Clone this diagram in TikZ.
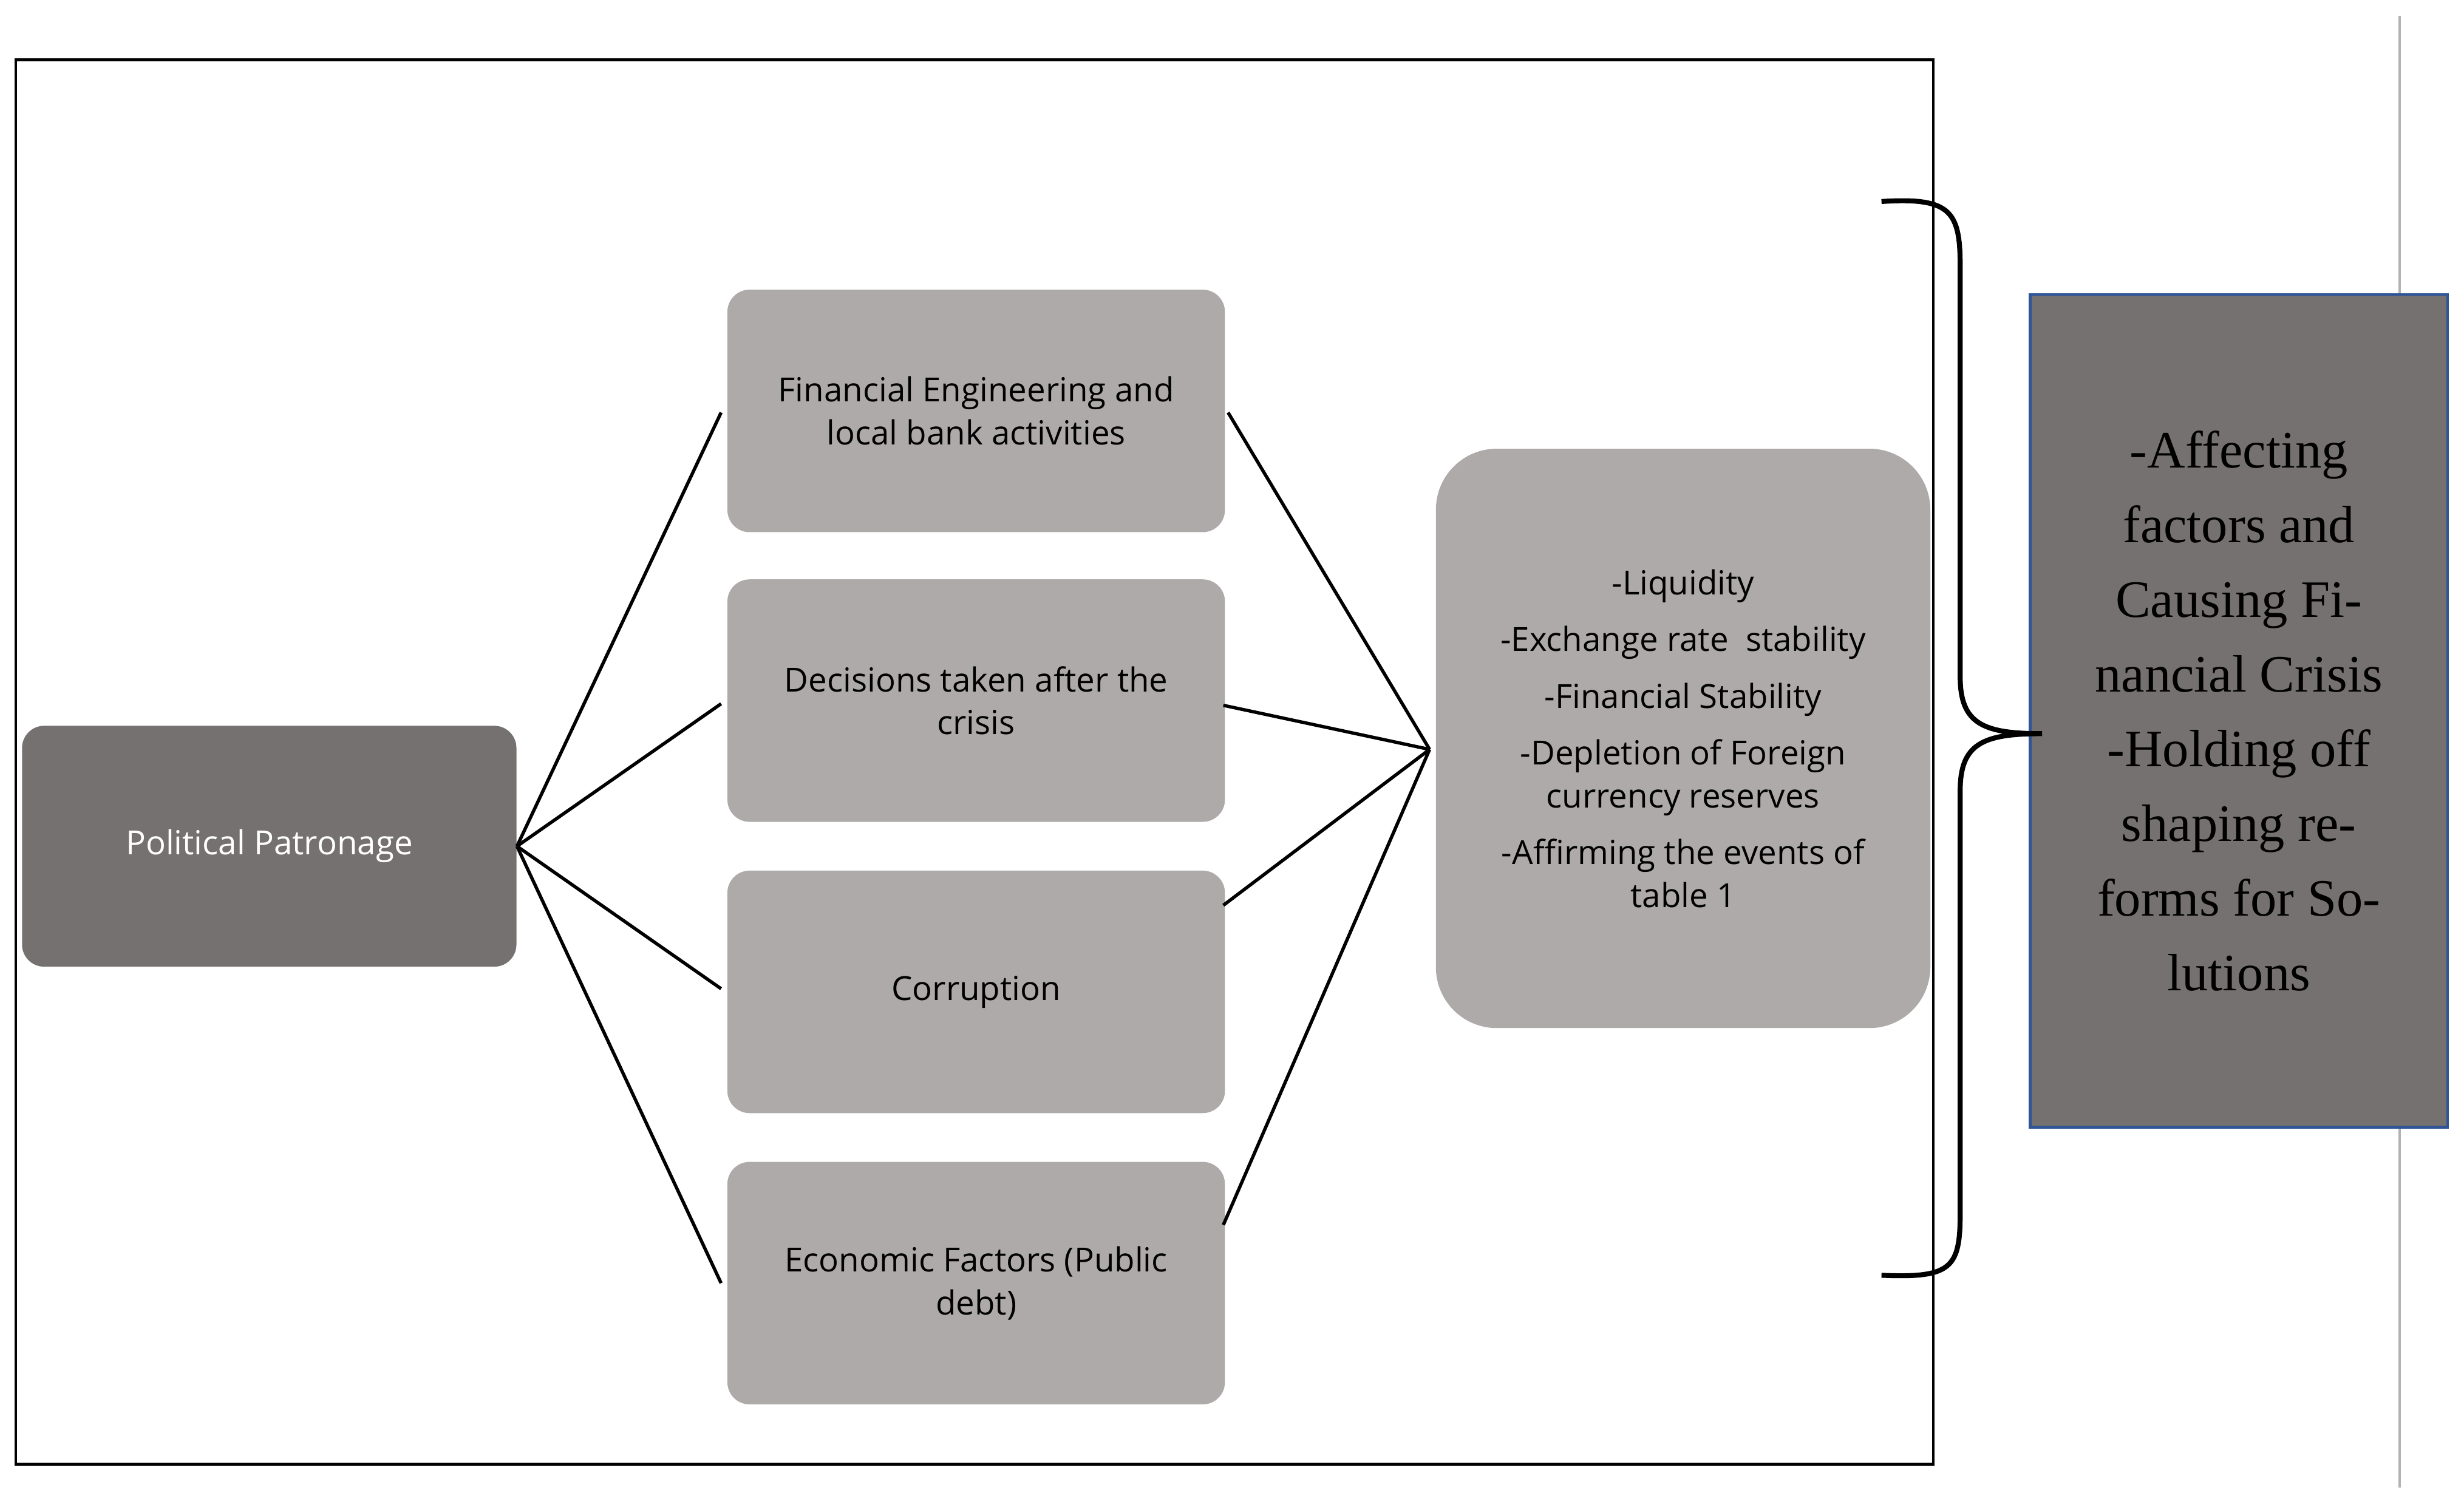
\documentclass[tikz,border=0pt]{standalone}
\usepackage{fontspec}
\setmainfont{Open Sans}
\newfontfamily\serifx{Liberation Serif}
\definecolor{dk}{HTML}{757170}
\definecolor{lt}{HTML}{AEAAAA}
\definecolor{bl}{HTML}{2F5597}
\begin{document}
\begin{tikzpicture}[x=0.02cm,y=-0.02cm,
 box/.style={fill=lt,rounded corners=8pt,draw=none,font=\fontsize{12}{15.5}\selectfont,align=center},
 conn/.style={line width=1.2pt}]
\useasboundingbox[fill=white] (0,0) rectangle (1565,957);
\draw[line width=0.9pt] (10,38) rectangle (1228,930);
\draw[gray!60,line width=0.8pt] (1524,10) -- (1524,945);
\node[box,fill=dk,text=white,minimum width=314*0.02cm,minimum height=153*0.02cm] (pp) at (171,537.5) {Political Patronage};
\node[box,minimum width=316*0.02cm,minimum height=154*0.02cm] (b1) at (620,261) {Financial Engineering and\\local bank activities};
\node[box,minimum width=316*0.02cm,minimum height=154*0.02cm] (b2) at (620,445) {Decisions taken after the\\crisis};
\node[box,minimum width=316*0.02cm,minimum height=154*0.02cm] (b3) at (620,630) {Corruption};
\node[box,minimum width=316*0.02cm,minimum height=154*0.02cm] (b4) at (620,815) {Economic Factors (Public\\debt)};
\node[box,rounded corners=22pt,minimum width=314*0.02cm,minimum height=368*0.02cm,font=\fontsize{12}{15.5}\selectfont] (r) at (1069,469) {-Liquidity\\[5pt]-Exchange rate\ \ stability\\[5pt]-Financial Stability\\[5pt]-Depletion of Foreign\\currency reserves\\[5pt]-Affirming the events of\\table 1};
\node[draw=bl,line width=1pt,fill=dk,minimum width=265*0.02cm,minimum height=529*0.02cm,font=\serifx\fontsize{19}{27}\selectfont,align=center,text=black] (big) at (1422,451.5) {-Affecting\\factors and\\Causing Fi-\\nancial Crisis\\-Holding off\\shaping re-\\forms for So-\\lutions};
\coordinate (c) at (908,476);
\foreach \b/\y in {b1/262,b2/447,b3/628,b4/815} \draw[conn] (pp.east) -- (458,\y);
\draw[conn] (780,262) -- (c);
\draw[conn] (777,448) -- (c);
\draw[conn] (777,575) -- (c);
\draw[conn] (777,778) -- (c);
\coordinate (bt) at (1195,128);
\coordinate (bb) at (1195,810);
\coordinate (tip) at (1297,466);
\draw[line width=1.8pt] (bt) .. controls (1240,125) and (1245,135) .. (1245,170) -- (1245,430) .. controls (1245,460) and (1260,466) .. (tip)
 (tip) .. controls (1260,466) and (1245,472) .. (1245,502) -- (1245,770) .. controls (1245,805) and (1240,812) .. (bb);
\end{tikzpicture}
\end{document}
